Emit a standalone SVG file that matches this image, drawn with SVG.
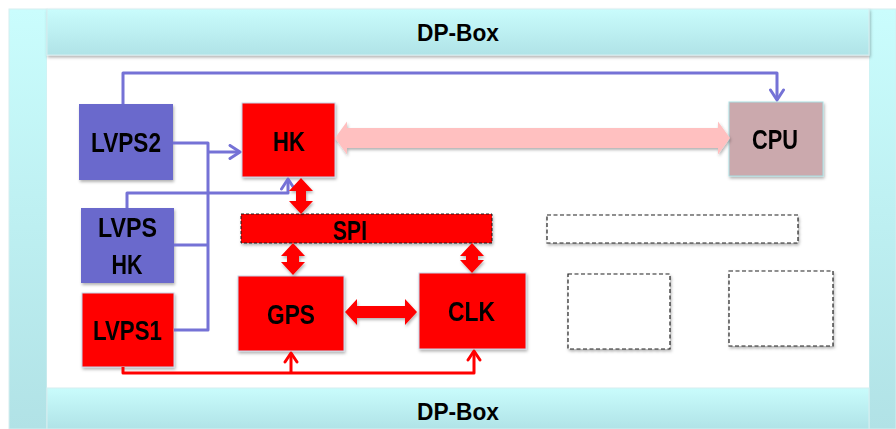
<svg xmlns="http://www.w3.org/2000/svg" width="896" height="429" viewBox="0 0 896 429">
<style>
  .lbl { font-family: "Liberation Sans", Arial, sans-serif; font-weight: bold; font-size: 28px; fill: #000; text-anchor: middle; }
  .title { font-family: "Liberation Sans", Arial, sans-serif; font-weight: bold; font-size: 24px; fill: #000; text-anchor: middle; }
  .blue { fill: #6b69cc; }
  .red { fill: #ff0000; stroke: #c8d4e8; stroke-width: 1; }
  .cpu { fill: #cba9ad; stroke: #a9dfe3; stroke-width: 1; }
  .dash { fill: #ffffff; stroke: #222; stroke-width: 1.2; stroke-dasharray: 4 2.5; }
  .bline { fill: none; stroke: #7572d6; stroke-width: 3; stroke-linejoin: round; }
  .rline { fill: none; stroke: #ff0000; stroke-width: 3; stroke-linejoin: round; }
  .block { fill: #ff0000; }
  .pink { fill: #ffc0c0; }
</style>
<defs>
  <linearGradient id="gV" x1="0" y1="0" x2="0" y2="1">
    <stop offset="0" stop-color="#cafdfd"/>
    <stop offset="1" stop-color="#b1e2e6"/>
  </linearGradient>
  <linearGradient id="gH" x1="0" y1="0" x2="0" y2="1">
    <stop offset="0" stop-color="#c9fcfc"/>
    <stop offset="1" stop-color="#b0e3e7"/>
  </linearGradient>
  <filter id="sh" x="-10%" y="-10%" width="130%" height="140%">
    <feDropShadow dx="1" dy="2" stdDeviation="1.5" flood-color="#000" flood-opacity="0.3"/>
  </filter>
  <marker id="ab" viewBox="-12 -8 14 16" markerWidth="14" markerHeight="16" refX="0" refY="0" orient="auto" markerUnits="userSpaceOnUse">
    <path d="M-10,-6.5 L0,0 L-10,6.5" fill="none" stroke="#7572d6" stroke-width="3" stroke-linecap="round" stroke-linejoin="round"/>
  </marker>
  <marker id="ar" viewBox="-12 -8 14 16" markerWidth="14" markerHeight="16" refX="0" refY="0" orient="auto" markerUnits="userSpaceOnUse">
    <path d="M-9,-6 L0,0 L-9,6" fill="none" stroke="#ff0000" stroke-width="3" stroke-linecap="round" stroke-linejoin="round"/>
  </marker>
</defs>

<g id="frame">
  <rect x="9" y="9" width="38" height="420" fill="url(#gV)" stroke="#d6eef0" stroke-width="1"/>
  <rect x="869" y="9" width="27" height="420" fill="url(#gV)" stroke="#d6eef0" stroke-width="1"/>
  <rect x="47" y="55" width="822" height="333" fill="#ffffff"/>
  <rect x="47" y="9" width="822" height="46" fill="url(#gH)" stroke="#d6eef0" stroke-width="1" filter="url(#sh)"/>
  <rect x="47" y="388" width="822" height="41" fill="url(#gH)" stroke="#d6eef0" stroke-width="1"/>
  <text class="title" x="458" y="41" textLength="82" lengthAdjust="spacingAndGlyphs">DP-Box</text>
  <text class="title" x="458" y="420" textLength="82" lengthAdjust="spacingAndGlyphs">DP-Box</text>
</g>

<g id="LVPS2" filter="url(#sh)">
  <rect class="blue" x="79" y="104" width="94" height="76"/>
  <text class="lbl" x="126" y="152" textLength="70" lengthAdjust="spacingAndGlyphs">LVPS2</text>
</g>
<g id="LVPSHK" filter="url(#sh)">
  <rect class="blue" x="81" y="208" width="93" height="75"/>
  <text class="lbl" x="127.5" y="237" textLength="59" lengthAdjust="spacingAndGlyphs">LVPS</text>
  <text class="lbl" x="127" y="274" textLength="31" lengthAdjust="spacingAndGlyphs">HK</text>
</g>
<g id="LVPS1" filter="url(#sh)">
  <rect class="red" x="82" y="293" width="92" height="74" stroke="#a9dfe3"/>
  <text class="lbl" x="127.5" y="340" textLength="69" lengthAdjust="spacingAndGlyphs">LVPS1</text>
</g>
<g id="HK" filter="url(#sh)">
  <rect class="red" x="242" y="103" width="93" height="74"/>
  <text class="lbl" x="289" y="151" textLength="32" lengthAdjust="spacingAndGlyphs">HK</text>
</g>
<g id="CPU" filter="url(#sh)">
  <rect class="cpu" x="729" y="102" width="94" height="74"/>
  <text class="lbl" x="775" y="149" textLength="46" lengthAdjust="spacingAndGlyphs">CPU</text>
</g>
<g id="SPI" filter="url(#sh)">
  <rect x="241" y="214" width="251" height="29" fill="#ff0000" stroke="#222" stroke-width="1" stroke-dasharray="3 2"/>
  <text class="lbl" x="350" y="240" textLength="34" lengthAdjust="spacingAndGlyphs">SPI</text>
</g>
<g id="GPS" filter="url(#sh)">
  <rect class="red" x="238" y="276" width="106" height="75" stroke="none"/>
  <text class="lbl" x="291" y="324" textLength="48" lengthAdjust="spacingAndGlyphs">GPS</text>
</g>
<g id="CLK" filter="url(#sh)">
  <rect class="red" x="419" y="273" width="107" height="76" stroke="none"/>
  <text class="lbl" x="471.5" y="321" textLength="47" lengthAdjust="spacingAndGlyphs">CLK</text>
</g>
<g id="empty1" filter="url(#sh)">
  <rect class="dash" x="547" y="215" width="251" height="28"/>
</g>
<g id="empty2" filter="url(#sh)">
  <rect class="dash" x="568" y="274" width="102" height="75"/>
</g>
<g id="empty3" filter="url(#sh)">
  <rect class="dash" x="729" y="271" width="104" height="75"/>
</g>

<g id="connectors">
  <path class="bline" d="M123,104 V73 H777 V100" marker-end="url(#ab)"/>
  <path class="bline" d="M173,143 H208 V330 H174"/>
  <path class="bline" d="M174,245 H208"/>
  <path class="bline" d="M208,152 H240" marker-end="url(#ab)"/>
  <path class="bline" d="M127,208 V193 H288 V179" marker-end="url(#ab)"/>
  <path class="rline" d="M123,367 V373 H474 V351" marker-end="url(#ar)"/>
  <path class="rline" d="M291,373 V353" marker-end="url(#ar)"/>
  <g filter="url(#sh)">
    <polygon class="pink" points="335,138 347,121.5 347,128 718,128 718,121.5 730,138 718,154.5 718,148 347,148 347,154.5"/>
    <polygon class="block" points="301,178 313,191 306,191 306,201 313,201 301,214 289,201 296,201 296,191 289,191"/>
    <polygon class="block" points="293,243 305,256 299,256 299,262 305,262 293,275 281,262 287,262 287,256 281,256"/>
    <polygon class="block" points="472,243 484,256 478,256 478,260 484,260 472,273 460,260 466,260 466,256 460,256"/>
    <polygon class="block" points="345,312 357,299 357,306 405,306 405,299 417,312 405,325 405,318 357,318 357,325"/>
  </g>
</g>
</svg>
